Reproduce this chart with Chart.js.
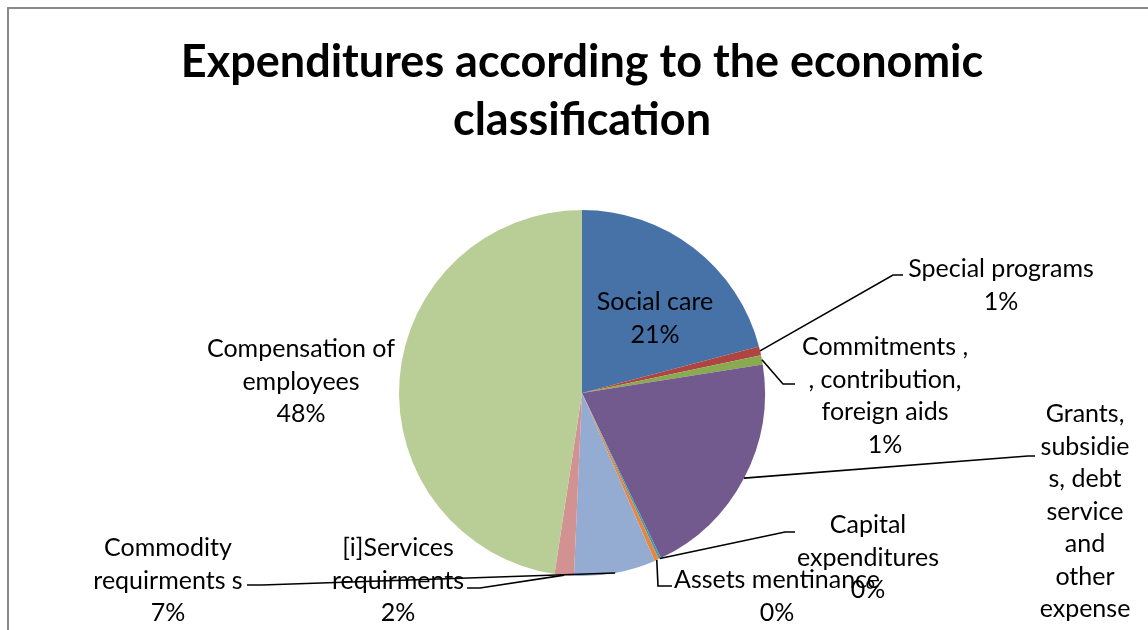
<!DOCTYPE html>
<html>
<head>
<meta charset="utf-8">
<script src="https://cdn.jsdelivr.net/npm/chart.js@4/dist/chart.umd.min.js"></script>
<style>
  html, body { margin: 0; padding: 0; background: #ffffff; }
  #wrap { width: 1148px; height: 630px; }
</style>
</head>
<body>
<div id="wrap"><canvas id="chart" width="1148" height="630"></canvas></div>
<script>
// Category names, wrapped into the lines shown beside each slice
const categories = [
  ['Social care'],
  ['Special programs'],
  ['Commitments ,', ', contribution,', 'foreign aids'],
  ['Grants,', 'subsidie', 's, debt', 'service', 'and', 'other', 'expense', 's'],
  ['Capital', 'expenditures'],
  ['Assets mentinance'],
  ['Commodity', 'requirments s'],
  ['[i]Services', 'requirments'],
  ['Compensation of', 'employees']
];

// Share of total expenditure (percent)
const shares = [20.9, 0.8, 0.8, 20.4, 0.2, 0.4, 7.2, 1.7, 47.6];

const sliceColors = [
  '#4672A8', '#AE4542', '#8AAA4F', '#725A8E', '#3F9BB4',
  '#E7873D', '#94ABD2', '#D29291', '#B9CD96'
];

const titleLines = ['Expenditures according to the economic', 'classification'];

// Label placement: centre of the text block (x, first line y); optional leader elbow and end
const labelLayout = [
  { x: 655, y: 302 },
  { x: 1001, y: 269, knee: [893, 275], end: [903, 275] },
  { x: 885, y: 347, knee: [783, 384], end: [795, 384] },
  { x: 1085, y: 414, knee: [1028, 456], end: [1035, 456] },
  { x: 868, y: 525, knee: [785, 532], end: [795, 532] },
  { x: 777, y: 580, knee: [658, 586], end: [672, 586] },
  { x: 168, y: 548, knee: [262, 585], end: [247, 585] },
  { x: 398, y: 548, knee: [480, 588], end: [467, 588] },
  { x: 301, y: 349 }
];

const LABEL_FONT = '25px Lato';
const LABEL_LINE = 32.5;

const frame = {
  id: 'frame',
  beforeDraw(chart) {
    const ctx = chart.ctx;
    ctx.save();
    ctx.fillStyle = '#ffffff';
    ctx.fillRect(0, 0, chart.width, chart.height);
    ctx.strokeStyle = '#8a8a8a';
    ctx.lineWidth = 2;
    ctx.strokeRect(8, 8, chart.width + 20, chart.height + 20);
    ctx.restore();
  }
};

const sliceLabels = {
  id: 'sliceLabels',
  afterDatasetsDraw(chart) {
    const ctx = chart.ctx;
    const meta = chart.getDatasetMeta(0);
    const values = chart.data.datasets[0].data;
    const total = values.reduce((a, b) => a + b, 0);
    ctx.save();
    meta.data.forEach((arc, i) => {
      const lay = labelLayout[i];
      const p = arc.getProps(['x', 'y', 'startAngle', 'endAngle', 'outerRadius'], true);
      const mid = (p.startAngle + p.endAngle) / 2;
      if (lay.knee) {
        const sx = p.x + Math.cos(mid) * p.outerRadius;
        const sy = p.y + Math.sin(mid) * p.outerRadius;
        ctx.strokeStyle = '#000000';
        ctx.lineWidth = 1.6;
        ctx.beginPath();
        ctx.moveTo(sx, sy);
        ctx.lineTo(lay.knee[0], lay.knee[1]);
        ctx.lineTo(lay.end[0], lay.end[1]);
        ctx.stroke();
      }
      const lines = chart.data.labels[i].concat([Math.round(values[i] / total * 100) + '%']);
      ctx.fillStyle = '#000000';
      ctx.font = LABEL_FONT;
      ctx.textAlign = 'center';
      ctx.textBaseline = 'middle';
      lines.forEach((t, k) => ctx.fillText(t, lay.x, lay.y + k * LABEL_LINE));
    });
    ctx.restore();
  }
};

new Chart(document.getElementById('chart'), {
  type: 'pie',
  data: {
    labels: categories,
    datasets: [{
      data: shares,
      backgroundColor: sliceColors,
      borderWidth: 0
    }]
  },
  options: {
    responsive: false,
    animation: false,
    layout: { padding: { left: 16, right: 0, top: 0, bottom: 54 } },
    plugins: {
      legend: { display: false },
      tooltip: { enabled: false },
      title: {
        display: true,
        text: titleLines,
        color: '#000000',
        font: { family: 'Lato', size: 45, weight: 'bold', lineHeight: 1.289 },
        padding: { top: 33, bottom: 61 }
      }
    }
  },
  plugins: [frame, sliceLabels]
});
</script>
</body>
</html>
